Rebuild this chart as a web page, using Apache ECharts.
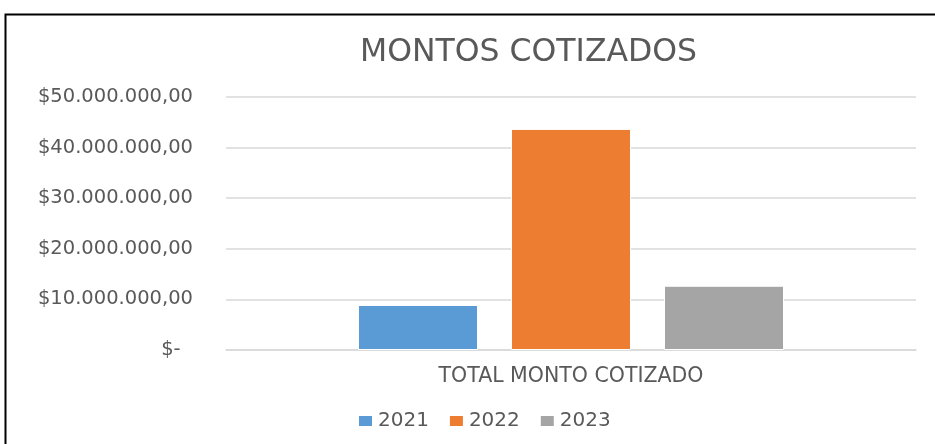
<!DOCTYPE html>
<html>
<head>
<meta charset="utf-8">
<script src="https://cdn.jsdelivr.net/npm/echarts@6/dist/echarts.min.js"></script>
<style>
  html, body { margin: 0; padding: 0; background: #fff; }
  #chart { width: 935px; height: 444px; }
</style>
</head>
<body>
<div id="chart"></div>
<script>
  // datos del gráfico
  const categories = ['TOTAL MONTO COTIZADO'];
  const years = ['2021', '2022', '2023'];
  const montos2021 = [8900000];
  const montos2022 = [43700000];
  const montos2023 = [12700000];
  const colors = ['#5B9BD5', '#ED7D31', '#A5A5A5'];

  function fmtMoney(v) {
    if (v === 0) return '$-  ';
    const s = String(Math.round(v)).replace(/\B(?=(\d{3})+(?!\d))/g, '.');
    return '$' + s + ',00';
  }

  const chart = echarts.init(document.getElementById('chart'));
  const seriesData = [montos2021, montos2022, montos2023];

  chart.setOption({
    animation: false,
    color: colors,
    textStyle: { fontFamily: 'DejaVu Sans' },
    title: {
      text: 'MONTOS COTIZADOS',
      left: 355,
      top: 32,
      textStyle: { fontSize: 31.5, fontWeight: 'normal', color: '#595959', fontFamily: 'DejaVu Sans' },
    },
    legend: {
      data: years,
      left: 352,
      top: 406,
      itemWidth: 15,
      itemHeight: 12,
      itemGap: 19,
      icon: 'rect',
      textStyle: { fontSize: 20, color: '#595959', fontFamily: 'DejaVu Sans' },
    },
    grid: {
      left: 226,
      right: 19,
      top: 97,
      bottom: 94,
    },
    xAxis: {
      type: 'category',
      data: categories,
      axisLine: { lineStyle: { color: '#d9d9d9', width: 1.5 } },
      axisTick: { show: false },
      axisLabel: { fontSize: 20.5, color: '#595959', margin: 16, fontFamily: 'DejaVu Sans' },
    },
    yAxis: {
      type: 'value',
      min: 0,
      max: 50000000,
      interval: 10000000,
      axisLine: { show: false },
      axisTick: { show: false },
      splitLine: { lineStyle: { color: '#d9d9d9', width: 1.5 } },
      axisLabel: {
        fontSize: 19.5,
        color: '#595959',
        margin: 33,
        fontFamily: 'DejaVu Sans',
        formatter: fmtMoney,
      },
    },
    series: years.map((y, i) => ({
      name: y,
      type: 'bar',
      data: seriesData[i],
      barWidth: 120,
      barGap: '27.5%',
      itemStyle: { borderColor: '#fff', borderWidth: 1 },
    })),
    graphic: [
      {
        type: 'polyline',
        shape: { points: [[5.5, 444], [5.5, 14.5], [935, 14.5]] },
        style: { stroke: '#000', lineWidth: 2, fill: null },
      },
    ],
  });
</script>
</body>
</html>
